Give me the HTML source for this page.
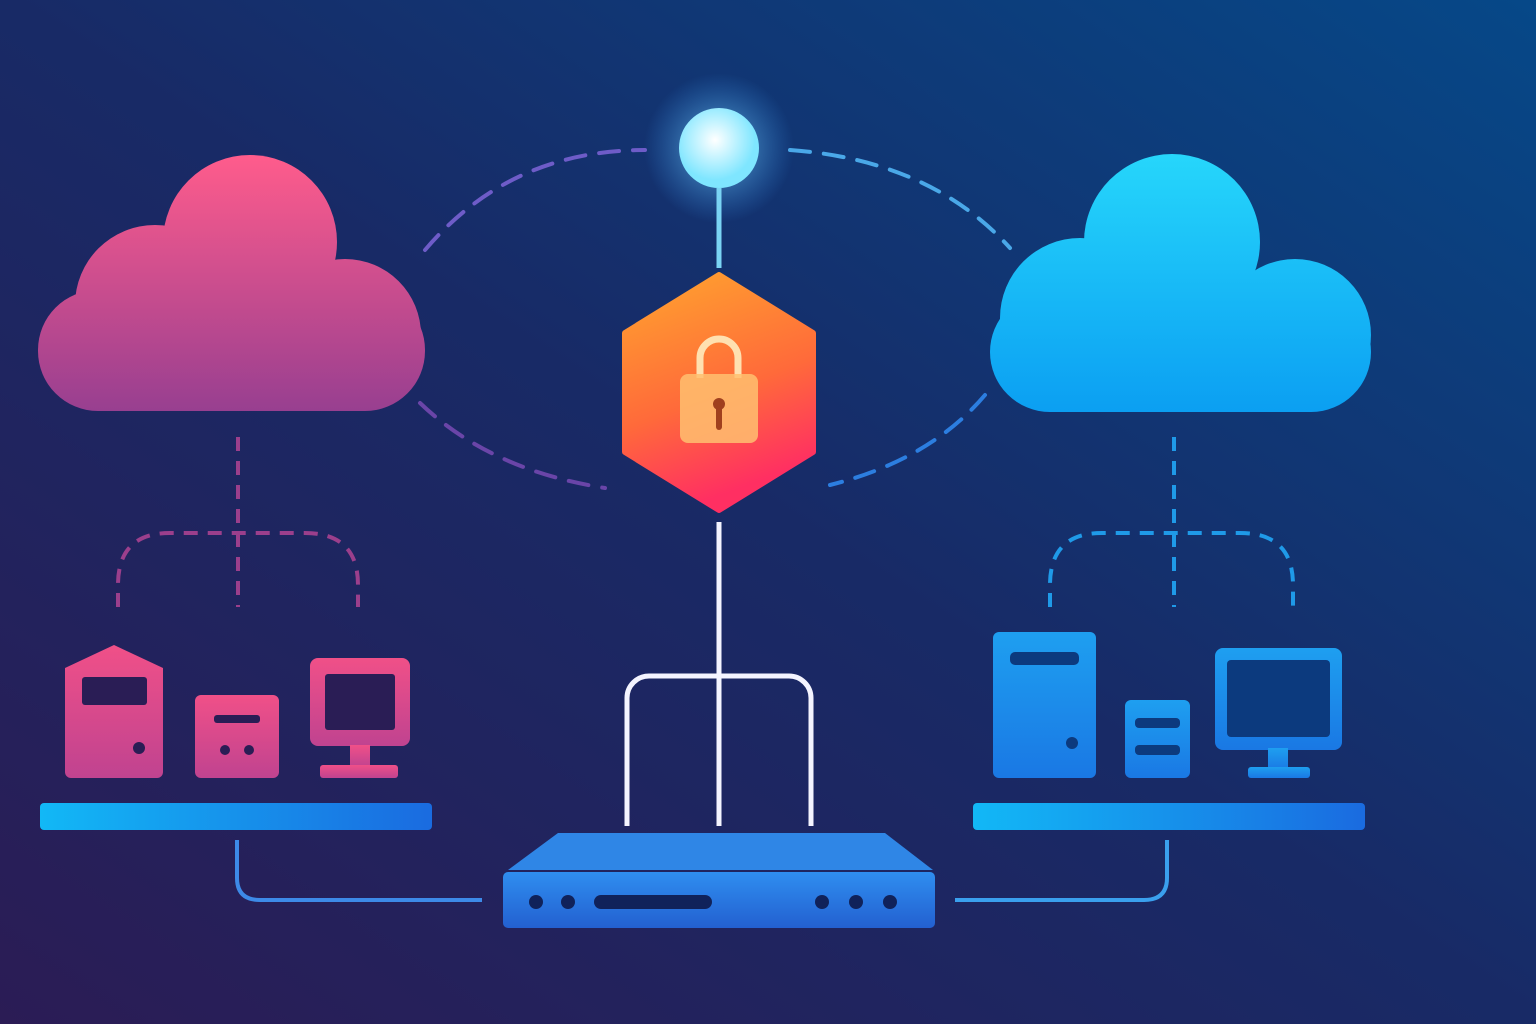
<!DOCTYPE html>
<html><head><meta charset="utf-8"><style>html,body{margin:0;padding:0;width:1536px;height:1024px;overflow:hidden}svg{display:block}</style></head>
<body>
<svg width="1536" height="1024" viewBox="0 0 1536 1024" xmlns="http://www.w3.org/2000/svg">
<defs>
<linearGradient id="bg" x1="0" y1="1" x2="1" y2="0">
<stop offset="0" stop-color="#2b1c55"/><stop offset="0.5" stop-color="#182a66"/><stop offset="1" stop-color="#064888"/></linearGradient>
<linearGradient id="pink" gradientUnits="userSpaceOnUse" x1="0" y1="155" x2="0" y2="411"><stop offset="0" stop-color="#ff5c8c"/><stop offset="1" stop-color="#983f90"/></linearGradient>
<linearGradient id="cyan" gradientUnits="userSpaceOnUse" x1="0" y1="155" x2="0" y2="412"><stop offset="0" stop-color="#26d6fb"/><stop offset="1" stop-color="#0b9ff2"/></linearGradient>
<linearGradient id="hex" x1="0" y1="0" x2="0.3" y2="1"><stop offset="0" stop-color="#ffa52e"/><stop offset="0.6" stop-color="#ff6a3a"/><stop offset="1" stop-color="#ff2f62"/></linearGradient>
<linearGradient id="pdev" x1="0" y1="0" x2="0" y2="1"><stop offset="0" stop-color="#f05088"/><stop offset="1" stop-color="#c04390"/></linearGradient>
<linearGradient id="bdev" x1="0" y1="0" x2="0" y2="1"><stop offset="0" stop-color="#1e9ff0"/><stop offset="1" stop-color="#1a78e4"/></linearGradient>
<linearGradient id="shelf" x1="0" y1="0" x2="1" y2="0"><stop offset="0" stop-color="#12b8f6"/><stop offset="1" stop-color="#1a6be0"/></linearGradient>
<linearGradient id="router" x1="0" y1="0" x2="0" y2="1"><stop offset="0" stop-color="#2f8ef0"/><stop offset="1" stop-color="#2360d0"/></linearGradient>
<radialGradient id="glow"><stop offset="0" stop-color="#8fe8ff" stop-opacity="0.7"/><stop offset="1" stop-color="#3aa0ff" stop-opacity="0"/></radialGradient>
<radialGradient id="node" cx="0.45" cy="0.4"><stop offset="0" stop-color="#ffffff"/><stop offset="1" stop-color="#7fe6ff"/></radialGradient>
</defs>
<rect width="1536" height="1024" fill="url(#bg)"/>

<g fill="url(#pink)">
<circle cx="250" cy="242" r="87"/><circle cx="155" cy="305" r="80"/><circle cx="345" cy="335" r="76"/>
<rect x="38" y="290" width="387" height="121" rx="60"/>
</g>
<g fill="url(#cyan)">
<circle cx="1172" cy="242" r="88"/><circle cx="1080" cy="318" r="80"/><circle cx="1295" cy="335" r="76"/>
<rect x="990" y="292" width="381" height="120" rx="60"/>
</g>

<g fill="none" stroke-width="4" stroke-dasharray="20 14" stroke-linecap="round">
<path d="M425,250 Q510,150 645,150" stroke="#6e5cc8"/>
<path d="M420,403 Q490,470 605,488" stroke="#6a45a8"/>
<path d="M790,150 Q930,160 1010,248" stroke="#4aa8e8"/>
<path d="M985,395 Q930,460 830,485" stroke="#2c7ee0"/>
</g>

<circle cx="719" cy="148" r="75" fill="url(#glow)"/>
<circle cx="719" cy="148" r="40" fill="url(#node)"/>
<line x1="719" y1="188" x2="719" y2="268" stroke="#7ad4f4" stroke-width="5"/>

<polygon points="719,275 813,333 813,452 719,510 625,452 625,333" fill="url(#hex)" stroke="url(#hex)" stroke-width="6" stroke-linejoin="round"/>
<path d="M700,378 V358 a19,19 0 0 1 38,0 V378" fill="none" stroke="#ffe0b0" stroke-width="7"/>
<rect x="680" y="374" width="78" height="69" rx="8" fill="#ffc070" opacity="0.85"/>
<circle cx="719" cy="404" r="6" fill="#a0401e"/><rect x="716" y="404" width="6" height="26" rx="3" fill="#a0401e"/>

<g fill="none" stroke="#f4f4ff" stroke-width="5">
<line x1="719" y1="522" x2="719" y2="826"/>
<path d="M627,826 V698 a22,22 0 0 1 22,-22 H789 a22,22 0 0 1 22,22 V826"/>
</g>

<polygon points="508,870 558,833 885,833 933,870" fill="#2f86e6"/>
<rect x="503" y="872" width="432" height="56" rx="5" fill="url(#router)"/>
<g fill="#10225a"><circle cx="536" cy="902" r="7"/><circle cx="568" cy="902" r="7"/><rect x="594" y="895" width="118" height="14" rx="7"/><circle cx="822" cy="902" r="7"/><circle cx="856" cy="902" r="7"/><circle cx="890" cy="902" r="7"/></g>

<g fill="none" stroke="#9b3f8c" stroke-width="4" stroke-dasharray="14 10">
<line x1="238" y1="437" x2="238" y2="607"/>
<path d="M118,607 V585 Q118,533 170,533 H305 Q358,533 358,585 V607"/>
</g>
<g fill="none" stroke="#1f9ae8" stroke-width="4" stroke-dasharray="14 10">
<line x1="1174" y1="437" x2="1174" y2="607"/>
<path d="M1050,607 V585 Q1050,533 1102,533 H1240 Q1293,533 1293,585 V607"/>
</g>

<g fill="url(#pdev)">
<path d="M65,668 L114,645 L163,668 V772 a6,6 0 0 1 -6,6 H71 a6,6 0 0 1 -6,-6Z"/>
<rect x="195" y="695" width="84" height="83" rx="6"/>
<rect x="310" y="658" width="100" height="88" rx="8"/>
<rect x="350" y="745" width="20" height="22"/><rect x="320" y="765" width="78" height="13" rx="3"/>
</g>
<g fill="#2a1d55">
<rect x="82" y="677" width="65" height="28" rx="3"/><circle cx="139" cy="748" r="6"/>
<rect x="214" y="715" width="46" height="8" rx="3"/><circle cx="225" cy="750" r="5"/><circle cx="249" cy="750" r="5"/>
<rect x="325" y="674" width="70" height="56" rx="3"/>
</g>
<rect x="40" y="803" width="392" height="27" rx="4" fill="url(#shelf)"/>

<g fill="url(#bdev)">
<rect x="993" y="632" width="103" height="146" rx="6"/>
<rect x="1125" y="700" width="65" height="78" rx="6"/>
<rect x="1215" y="648" width="127" height="102" rx="8"/>
<rect x="1268" y="748" width="20" height="22"/><rect x="1248" y="767" width="62" height="11" rx="3"/>
</g>
<g fill="#0c3a7e">
<rect x="1010" y="652" width="69" height="13" rx="5"/><circle cx="1072" cy="743" r="6"/>
<rect x="1135" y="718" width="45" height="10" rx="4"/><rect x="1135" y="745" width="45" height="10" rx="4"/>
<rect x="1227" y="660" width="103" height="77" rx="4"/>
</g>
<rect x="973" y="803" width="392" height="27" rx="4" fill="url(#shelf)"/>

<g fill="none" stroke-width="4">
<path d="M237,840 V878 Q237,900 260,900 H482" stroke="#3d8ae8"/>
<path d="M1167,840 V878 Q1167,900 1144,900 H955" stroke="#3aa0ee"/>
</g>
</svg>
</body></html>
